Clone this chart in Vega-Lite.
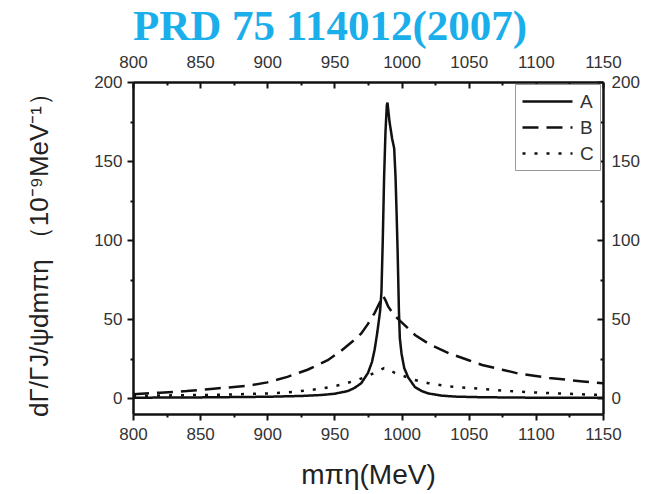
{
  "$schema": "https://vega.github.io/schema/vega-lite/v6.json",
  "width": 470,
  "height": 332,
  "autosize": {"type": "none"},
  "padding": {"left": 133, "top": 82, "right": 55, "bottom": 80},
  "background": "white",
  "title": {"text": "PRD 75 114012(2007)", "font": "Liberation Serif", "fontSize": 43, "fontWeight": "bold", "color": "#1AAEEA", "anchor": "start", "frame": "group", "offset": 1},
  "data": {"values": [
    {"x": 800, "y": 0.3, "s": "A"}, {"x": 850, "y": 0.5, "s": "A"}, {"x": 900, "y": 0.9, "s": "A"}, {"x": 925, "y": 1.4, "s": "A"}, {"x": 940, "y": 2, "s": "A"}, {"x": 950, "y": 2.8, "s": "A"}, {"x": 960, "y": 4.5, "s": "A"}, {"x": 965, "y": 6.5, "s": "A"}, {"x": 970, "y": 9.5, "s": "A"}, {"x": 975, "y": 16, "s": "A"}, {"x": 978, "y": 23, "s": "A"}, {"x": 980, "y": 31, "s": "A"}, {"x": 982, "y": 42, "s": "A"}, {"x": 984, "y": 55, "s": "A"}, {"x": 985, "y": 67, "s": "A"}, {"x": 986, "y": 100, "s": "A"}, {"x": 987, "y": 140, "s": "A"}, {"x": 988, "y": 168, "s": "A"}, {"x": 989, "y": 185, "s": "A"}, {"x": 989.5, "y": 187, "s": "A"}, {"x": 991, "y": 175, "s": "A"}, {"x": 993, "y": 164, "s": "A"}, {"x": 994.5, "y": 158, "s": "A"}, {"x": 995.5, "y": 140, "s": "A"}, {"x": 996.3, "y": 117, "s": "A"}, {"x": 997, "y": 95, "s": "A"}, {"x": 997.5, "y": 76, "s": "A"}, {"x": 998, "y": 56, "s": "A"}, {"x": 998.7, "y": 38, "s": "A"}, {"x": 1000, "y": 28, "s": "A"}, {"x": 1002, "y": 19, "s": "A"}, {"x": 1005, "y": 13, "s": "A"}, {"x": 1010, "y": 7, "s": "A"}, {"x": 1015, "y": 4.5, "s": "A"}, {"x": 1020, "y": 3, "s": "A"}, {"x": 1030, "y": 1.6, "s": "A"}, {"x": 1040, "y": 1, "s": "A"}, {"x": 1060, "y": 0.6, "s": "A"}, {"x": 1100, "y": 0.3, "s": "A"}, {"x": 1150, "y": 0.2, "s": "A"},
    {"x": 800, "y": 2.5, "s": "B"}, {"x": 820, "y": 3.5, "s": "B"}, {"x": 840, "y": 4.5, "s": "B"}, {"x": 860, "y": 6, "s": "B"}, {"x": 885, "y": 7.8, "s": "B"}, {"x": 900, "y": 10, "s": "B"}, {"x": 915, "y": 13.5, "s": "B"}, {"x": 930, "y": 18, "s": "B"}, {"x": 945, "y": 24, "s": "B"}, {"x": 955, "y": 30, "s": "B"}, {"x": 965, "y": 37, "s": "B"}, {"x": 970, "y": 41, "s": "B"}, {"x": 975, "y": 47, "s": "B"}, {"x": 980, "y": 54, "s": "B"}, {"x": 984, "y": 61, "s": "B"}, {"x": 986, "y": 65, "s": "B"}, {"x": 988, "y": 62, "s": "B"}, {"x": 990, "y": 58, "s": "B"}, {"x": 994, "y": 53, "s": "B"}, {"x": 997.5, "y": 50, "s": "B"}, {"x": 1005, "y": 44, "s": "B"}, {"x": 1010, "y": 40, "s": "B"}, {"x": 1020, "y": 34.5, "s": "B"}, {"x": 1035, "y": 28.5, "s": "B"}, {"x": 1050, "y": 24, "s": "B"}, {"x": 1060, "y": 21, "s": "B"}, {"x": 1075, "y": 18, "s": "B"}, {"x": 1085, "y": 16, "s": "B"}, {"x": 1100, "y": 14, "s": "B"}, {"x": 1110, "y": 12.8, "s": "B"}, {"x": 1125, "y": 11.5, "s": "B"}, {"x": 1135, "y": 10.6, "s": "B"}, {"x": 1150, "y": 9.5, "s": "B"},
    {"x": 800, "y": 1.5, "s": "C"}, {"x": 830, "y": 1.8, "s": "C"}, {"x": 865, "y": 2.2, "s": "C"}, {"x": 900, "y": 3, "s": "C"}, {"x": 920, "y": 4, "s": "C"}, {"x": 940, "y": 6, "s": "C"}, {"x": 955, "y": 8.5, "s": "C"}, {"x": 965, "y": 11, "s": "C"}, {"x": 975, "y": 14, "s": "C"}, {"x": 982, "y": 17, "s": "C"}, {"x": 987, "y": 19, "s": "C"}, {"x": 990, "y": 18, "s": "C"}, {"x": 995, "y": 16, "s": "C"}, {"x": 1000, "y": 14.5, "s": "C"}, {"x": 1010, "y": 11.5, "s": "C"}, {"x": 1020, "y": 9.5, "s": "C"}, {"x": 1035, "y": 7.5, "s": "C"}, {"x": 1050, "y": 6.5, "s": "C"}, {"x": 1060, "y": 5.8, "s": "C"}, {"x": 1085, "y": 4.2, "s": "C"}, {"x": 1110, "y": 3.2, "s": "C"}, {"x": 1130, "y": 2.6, "s": "C"}, {"x": 1150, "y": 2, "s": "C"}
  ]},
  "layer": [
    {
      "mark": {"type": "line", "strokeWidth": 2.5, "color": "#111", "clip": true},
      "encoding": {
        "x": {"field": "x", "type": "quantitative", "scale": {"domain": [800, 1150], "nice": false, "zero": false},
          "axis": {"orient": "bottom", "title": "mπη(MeV)", "titleFontSize": 28, "titlePadding": 19,
            "values": [800, 825, 850, 875, 900, 925, 950, 975, 1000, 1025, 1050, 1075, 1100, 1125, 1150],
            "labelExpr": "datum.value % 50 === 0 ? datum.label : ''",
            "tickSize": {"condition": {"test": "datum.value % 50 === 0", "value": 6}, "value": 3},
            "labelPadding": 6}},
        "y": {"field": "y", "type": "quantitative", "scale": {"domain": [-10, 200], "nice": false, "zero": false},
          "axis": {"orient": "left", "title": "dΓ/ΓJ/ψdmπη （10⁻⁹MeV⁻¹）", "titleFontSize": 26, "titlePadding": 41,
            "values": [0, 25, 50, 75, 100, 125, 150, 175, 200],
            "labelExpr": "datum.value % 50 === 0 ? datum.label : ''",
            "tickSize": {"condition": {"test": "datum.value % 50 === 0", "value": 6}, "value": 3},
            "labelPadding": 5}},
        "strokeDash": {"field": "s", "type": "nominal",
          "scale": {"domain": ["A", "B", "C"], "range": [[1, 0], [16, 8], [3, 9]]},
          "legend": {"orient": "none", "legendX": 382, "legendY": 2, "title": null}}
      }
    },
    {
      "mark": {"type": "line", "opacity": 0},
      "encoding": {
        "x": {"field": "x", "type": "quantitative",
          "axis": {"orient": "top", "title": null,
            "values": [800, 825, 850, 875, 900, 925, 950, 975, 1000, 1025, 1050, 1075, 1100, 1125, 1150],
            "labelExpr": "datum.value % 50 === 0 ? datum.label : ''",
            "tickSize": {"condition": {"test": "datum.value % 50 === 0", "value": -6}, "value": -3},
            "labelPadding": 17}},
        "y": {"field": "y", "type": "quantitative",
          "axis": {"orient": "right", "title": null,
            "values": [0, 25, 50, 75, 100, 125, 150, 175, 200],
            "labelExpr": "datum.value % 50 === 0 ? datum.label : ''",
            "tickSize": {"condition": {"test": "datum.value % 50 === 0", "value": -6}, "value": -3},
            "labelPadding": 14}},
        "detail": {"field": "s", "type": "nominal"}
      }
    }
  ],
  "resolve": {"axis": {"x": "independent", "y": "independent"}},
  "config": {
    "view": {"stroke": null},
    "axis": {"grid": false, "format": "d", "labelFont": "Liberation Sans", "labelFontSize": 17, "labelColor": "#333",
      "titleFont": "Liberation Sans", "titleFontWeight": "normal", "titleColor": "#222",
      "domainColor": "#111", "domainWidth": 2.5, "tickColor": "#111", "tickWidth": 2,
      "labelFlush": false, "labelOverlap": false},
    "legend": {"symbolType": "M-1,0H4", "symbolSize": 400, "symbolStrokeWidth": 2.5, "symbolStrokeColor": "#111",
      "labelFont": "Liberation Sans", "labelFontSize": 19, "labelColor": "#333", "labelOffset": 36,
      "strokeColor": "#999", "fillColor": "white", "padding": 6, "rowPadding": 4}
  }
}
